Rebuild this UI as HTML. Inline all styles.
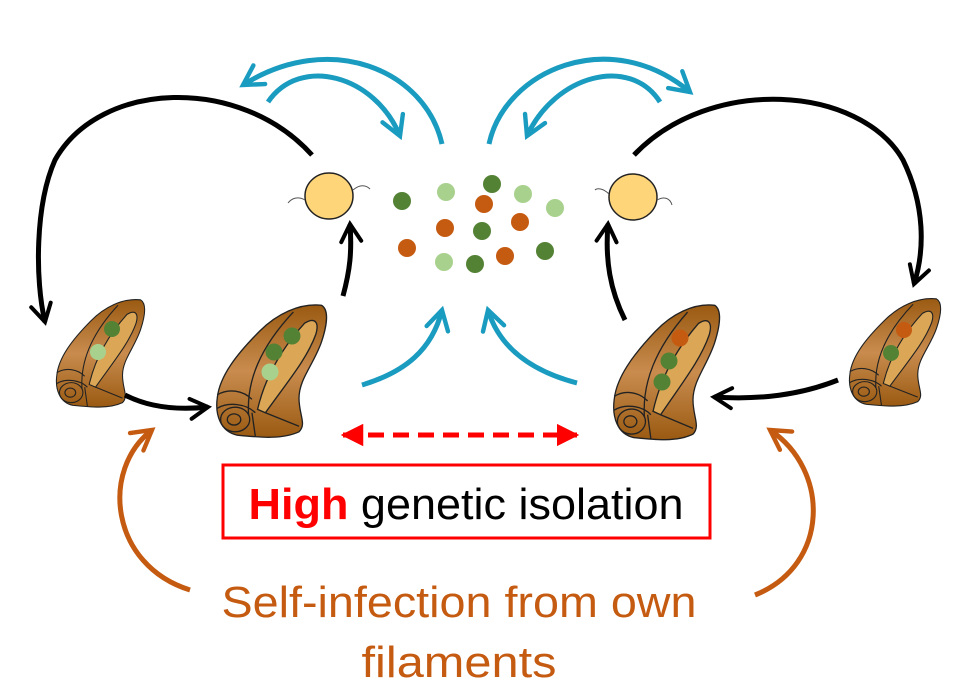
<!DOCTYPE html>
<html><head><meta charset="utf-8"><style>
html,body{margin:0;padding:0;background:#fff;}
svg{display:block;}
</style></head><body>
<svg width="968" height="689" viewBox="0 0 968 689" xmlns="http://www.w3.org/2000/svg">
<defs>
<linearGradient id="sg" x1="0" y1="0" x2="0" y2="1">
<stop offset="0" stop-color="#9a5a12"/><stop offset="0.5" stop-color="#c98c4e"/><stop offset="1" stop-color="#9a5a12"/>
</linearGradient>
<marker id="mk" viewBox="0 0 10 10" refX="8" refY="5" markerWidth="5" markerHeight="5" orient="auto" markerUnits="strokeWidth">
<path d="M1 1 L8 5 L1 9" fill="none" stroke="#000" stroke-width="1.6" stroke-linecap="round"/></marker>
<marker id="mb" viewBox="0 0 10 10" refX="8" refY="5" markerWidth="5.5" markerHeight="5.5" orient="auto" markerUnits="strokeWidth">
<path d="M1 1 L8 5 L1 9" fill="none" stroke="#1a9bc0" stroke-width="1.6" stroke-linecap="round"/></marker>
<marker id="mo" viewBox="0 0 10 10" refX="8" refY="5" markerWidth="5.5" markerHeight="5.5" orient="auto" markerUnits="strokeWidth">
<path d="M1 1 L8 5 L1 9" fill="none" stroke="#c55a11" stroke-width="1.6" stroke-linecap="round"/></marker>
<marker id="mr" viewBox="0 0 10 10" refX="9" refY="5" markerWidth="4.5" markerHeight="4.5" orient="auto-start-reverse" markerUnits="strokeWidth">
<path d="M0 0 L10 5 L0 10 Z" fill="#ff0000"/></marker>
<g id="snail">
<path d="M20 118 C5 115 0 100 2 85 C4 65 20 45 40 25 C55 10 75 0 95 2 C102 6 100 20 95 35 C88 55 75 68 75 85 C75 100 82 108 75 115 C60 122 40 120 20 118 Z" fill="url(#sg)" stroke="#222" stroke-width="1.2"/>
<path d="M38 95 C45 65 60 40 80 18 C90 12 93 18 90 28 C82 50 65 70 45 98 Z" fill="#dba756" stroke="#222" stroke-width="1.2"/>
<path d="M30 100 C28 70 40 40 70 8" fill="none" stroke="#222" stroke-width="1.2"/>
<path d="M2 82 C12 76 25 78 33 86 M2 94 C12 88 28 90 36 98" fill="none" stroke="#222" stroke-width="1.2"/>
<ellipse cx="18" cy="104" rx="13" ry="11" fill="none" stroke="#222" stroke-width="1.2"/>
<ellipse cx="17" cy="104" rx="6" ry="5" fill="none" stroke="#222" stroke-width="1.2"/>
<path d="M33 98 L36 119 M45 98 L75 110" fill="none" stroke="#222" stroke-width="1.2"/>
</g>
</defs>

<use href="#snail" transform="translate(55,298) scale(0.9,0.91)"/>
<circle cx="112" cy="329" r="8" fill="#548235"/>
<circle cx="98" cy="352" r="8" fill="#a9d18e"/>
<use href="#snail" transform="translate(215,303) scale(1.12,1.12)"/>
<circle cx="292" cy="336" r="8.5" fill="#548235"/>
<circle cx="274" cy="352" r="8.5" fill="#548235"/>
<circle cx="270" cy="372" r="8.5" fill="#a9d18e"/>
<use href="#snail" transform="translate(612,303) scale(1.08,1.14)"/>
<circle cx="680" cy="338" r="8.5" fill="#c55a11"/>
<circle cx="669" cy="361" r="8.5" fill="#548235"/>
<circle cx="662" cy="382" r="8.5" fill="#548235"/>
<use href="#snail" transform="translate(848,297) scale(0.93,0.91)"/>
<circle cx="904" cy="330" r="8" fill="#c55a11"/>
<circle cx="891" cy="353" r="8" fill="#548235"/>

<ellipse cx="329" cy="196" rx="24" ry="23" fill="#ffd57a" stroke="#222" stroke-width="1.5"/>
<path d="M305 200 C298 196 292 198 288 203 M353 190 C360 184 366 185 370 189" fill="none" stroke="#555" stroke-width="1"/>
<ellipse cx="633" cy="197" rx="24" ry="23" fill="#ffd57a" stroke="#222" stroke-width="1.5"/>
<path d="M609 194 C603 188 597 188 595 190 M657 200 C664 196 670 198 672 205" fill="none" stroke="#555" stroke-width="1"/>

<g>
<circle cx="402" cy="201" r="9" fill="#548235"/>
<circle cx="446" cy="192" r="9" fill="#a9d18e"/>
<circle cx="492" cy="184" r="9" fill="#548235"/>
<circle cx="523" cy="194" r="9" fill="#a9d18e"/>
<circle cx="555" cy="208" r="9" fill="#a9d18e"/>
<circle cx="484" cy="204" r="9" fill="#c55a11"/>
<circle cx="445" cy="228" r="9" fill="#c55a11"/>
<circle cx="482" cy="231" r="9" fill="#548235"/>
<circle cx="520" cy="222" r="9" fill="#c55a11"/>
<circle cx="407" cy="248" r="9" fill="#c55a11"/>
<circle cx="444" cy="262" r="9" fill="#a9d18e"/>
<circle cx="475" cy="264" r="9" fill="#548235"/>
<circle cx="505" cy="256" r="9" fill="#c55a11"/>
<circle cx="545" cy="251" r="9" fill="#548235"/>
</g>

<g fill="none" stroke="#000" stroke-width="5">
<path d="M312 155 C240 75 100 80 55 160 C35 205 35 280 45 322" marker-end="url(#mk)"/>
<path d="M125 395 C150 408 180 410 208 407" marker-end="url(#mk)"/>
<path d="M343 296 C350 270 352 252 350 224" marker-end="url(#mk)"/>
<path d="M634 155 C710 75 860 85 903 160 C925 205 925 250 914 284" marker-end="url(#mk)"/>
<path d="M838 380 C800 395 760 400 714 397" marker-end="url(#mk)"/>
<path d="M625 320 C610 290 605 260 608 224" marker-end="url(#mk)"/>
</g>

<g fill="none" stroke="#1a9bc0" stroke-width="5">
<path d="M442 144 C425 70 330 30 243 85" marker-end="url(#mb)"/>
<path d="M268 102 C300 55 375 75 400 136" marker-end="url(#mb)"/>
<path d="M489 144 C505 70 610 25 690 92" marker-end="url(#mb)"/>
<path d="M660 102 C630 55 555 75 527 136" marker-end="url(#mb)"/>
<path d="M362 385 C405 372 432 350 442 310" marker-end="url(#mb)"/>
<path d="M577 383 C535 372 500 350 488 310" marker-end="url(#mb)"/>
</g>

<line x1="343" y1="435" x2="577" y2="435" stroke="#ff0000" stroke-width="5" stroke-dasharray="16,9" marker-start="url(#mr)" marker-end="url(#mr)"/>
<rect x="223" y="465" width="487" height="73" fill="none" stroke="#ff0000" stroke-width="3"/>
<text x="466" y="519" text-anchor="middle" font-family="Liberation Sans, sans-serif" font-size="44" textLength="435" lengthAdjust="spacingAndGlyphs"><tspan fill="#ff0000" font-weight="bold">High</tspan> genetic isolation</text>

<g fill="none" stroke="#c55a11" stroke-width="5">
<path d="M190 590 C110 565 100 470 152 430" marker-end="url(#mo)"/>
<path d="M755 595 C830 565 830 470 770 430" marker-end="url(#mo)"/>
</g>
<text x="459" y="617" text-anchor="middle" font-family="Liberation Sans, sans-serif" font-size="44" fill="#c55a11" textLength="475" lengthAdjust="spacingAndGlyphs">Self-infection from own</text>
<text x="459" y="677" text-anchor="middle" font-family="Liberation Sans, sans-serif" font-size="44" fill="#c55a11" textLength="195" lengthAdjust="spacingAndGlyphs">filaments</text>
</svg>
</body></html>
